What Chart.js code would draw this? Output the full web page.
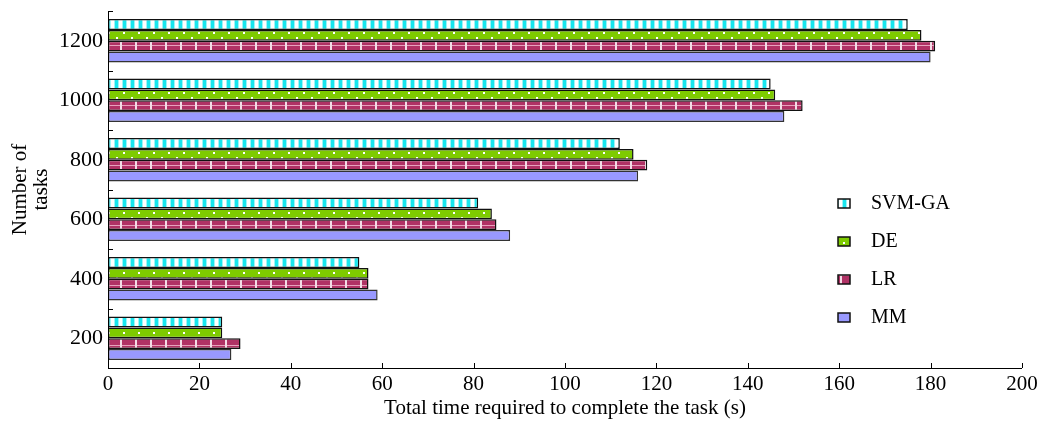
<!DOCTYPE html>
<html>
<head>
<meta charset="utf-8">
<script src="https://cdn.jsdelivr.net/npm/chart.js@4/dist/chart.umd.min.js"></script>
<style>
html,body{margin:0;padding:0;background:#fff;}
#wrap{width:1039px;height:421px;position:relative;}
</style>
</head>
<body>
<div id="wrap"><canvas id="c" width="1039" height="421"></canvas></div>
<script>
const categories = ['200', '400', '600', '800', '1000', '1200'];
const seriesNames = ['SVM-GA', 'DE', 'LR', 'MM'];
const svmGA = [25, 55, 81, 112, 145, 175];
const de = [25, 57, 84, 115, 146, 178];
const lr = [29, 57, 85, 118, 152, 181];
const mm = [27, 59, 88, 116, 148, 180];
const xTicks = [0, 20, 40, 60, 80, 100, 120, 140, 160, 180, 200];

function makeTile(w, h, draw) {
  const cv = document.createElement('canvas');
  cv.width = w; cv.height = h;
  const g = cv.getContext('2d');
  draw(g);
  return document.getElementById('c').getContext('2d').createPattern(cv, 'repeat');
}
const patSVM = makeTile(8, 8, g => {
  g.fillStyle = '#ffffff'; g.fillRect(0, 0, 8, 8);
  g.fillStyle = '#9ff4f7'; g.fillRect(2, 0, 1, 8); g.fillRect(6, 0, 1, 8);
  g.fillStyle = '#19e6ee'; g.fillRect(3, 0, 3, 8);
});
const patDE = makeTile(15, 10, g => {
  g.fillStyle = '#7ecb00'; g.fillRect(0, 0, 15, 10);
  g.fillStyle = '#ffffff'; g.fillRect(3, 2, 2, 2); g.fillRect(11, 7, 2, 2);
});
const patLR = makeTile(15, 10, g => {
  g.fillStyle = '#b03265'; g.fillRect(0, 0, 15, 10);
  g.fillStyle = '#e7a3bd'; g.fillRect(0, 5, 15, 1);
  g.fillStyle = '#f4dce6'; g.fillRect(0, 0, 2, 10);
});
const fills = [patSVM, patDE, patLR, '#9999ff'];
const borders = ['#111111', '#111111', '#111111', '#333333'];
const values = [svmGA, de, lr, mm];

const FONT = '"Liberation Serif", "Times New Roman", serif';

const axisDeco = {
  id: 'axisDeco',
  afterDraw(chart) {
    const ctx = chart.ctx;
    const a = chart.chartArea;
    const xs = chart.scales.x;
    ctx.save();
    ctx.strokeStyle = '#000';
    ctx.lineWidth = 1;
    ctx.beginPath();
    ctx.moveTo(a.left + 0.5, a.top);
    ctx.lineTo(a.left + 0.5, a.bottom + 0.5);
    ctx.lineTo(a.right, a.bottom + 0.5);
    xTicks.forEach(v => {
      const px = Math.round(xs.getPixelForValue(v)) + 0.5;
      ctx.moveTo(px, a.bottom);
      ctx.lineTo(px, a.bottom - 5);
    });
    const n = categories.length;
    const step = (a.bottom - a.top) / n;
    for (let i = 0; i <= n; i++) {
      const py = Math.round(a.top + i * step) + 0.5;
      ctx.moveTo(a.left, py);
      ctx.lineTo(a.left + 5, py);
    }
    ctx.stroke();

    // legend
    const bx = a.right - 184;
    const by = a.top + 188;
    ctx.font = '20px ' + FONT;
    ctx.textBaseline = 'middle';
    ctx.textAlign = 'left';
    chart.data.datasets.forEach((ds, i) => {
      const y = by + i * 38;
      ctx.fillStyle = ds.backgroundColor;
      ctx.fillRect(bx, y, 12, 9);
      ctx.strokeStyle = '#111';
      ctx.lineWidth = 1.5;
      ctx.strokeRect(bx, y, 12, 9);
      ctx.fillStyle = '#000';
      ctx.fillText(ds.label, bx + 33, y + 5);
    });
    ctx.restore();
  }
};

new Chart(document.getElementById('c'), {
  type: 'bar',
  data: {
    labels: categories,
    datasets: seriesNames.map((name, i) => ({
      label: name,
      data: values[i],
      backgroundColor: fills[i],
      borderColor: borders[i],
      borderWidth: 1.5,
      borderSkipped: false,
      categoryPercentage: 0.73,
      barPercentage: 1.0
    }))
  },
  options: {
    indexAxis: 'y',
    responsive: false,
    animation: false,
    layout: { padding: { top: 11, right: 17, left: 0, bottom: 0 } },
    plugins: {
      legend: { display: false },
      tooltip: { enabled: false }
    },
    scales: {
      x: {
        type: 'linear',
        min: 0, max: 200,
        afterBuildTicks(scale) { scale.ticks = xTicks.map(v => ({ value: v })); },
        afterFit(scale) { scale.height = 53; scale.paddingLeft = 0; scale.paddingRight = 0; },
        grid: { display: false, drawTicks: false },
        border: { display: false },
        ticks: { color: '#000', font: { family: FONT, size: 21 }, padding: 4, maxRotation: 0 },
        title: { display: true, text: 'Total time required to complete the task (s)', color: '#000', font: { family: FONT, size: 21 }, padding: { top: 0, bottom: 0 } }
      },
      y: {
        reverse: true,
        afterFit(scale) { scale.width = 108; scale.paddingTop = 0; scale.paddingBottom = 0; },
        grid: { display: false, drawTicks: false },
        border: { display: false },
        ticks: { color: '#000', font: { family: FONT, size: 22 }, padding: 5 },
        title: { display: true, text: ['Number of', 'tasks'], color: '#000', font: { family: FONT, size: 21, lineHeight: 1.0 }, padding: { top: 10, bottom: 10 } }
      }
    }
  },
  plugins: [axisDeco]
});
</script>
</body>
</html>
